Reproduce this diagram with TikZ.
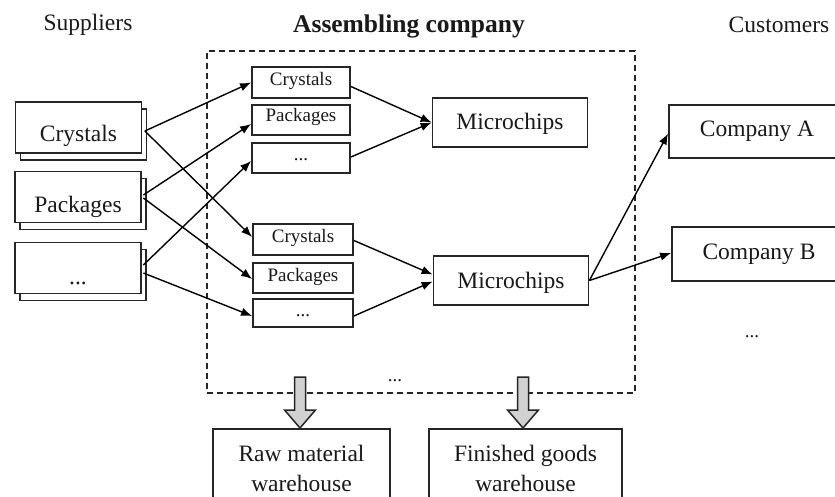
\documentclass[tikz,border=0pt]{standalone}
\usepackage{fontspec}
\setmainfont{Liberation Serif}
\usetikzlibrary{arrows.meta,shadows,calc}
\begin{document}
\begin{tikzpicture}[x=1pt,y=-1pt,
  box/.style={draw=black!85,line width=1.8pt,fill=white,inner sep=0pt,text=black!90,text depth=0pt},
  bigfont/.style={font=\fontsize{23.5}{28}\selectfont},
  smallfont/.style={font=\fontsize{19}{23}\selectfont},
  supbox/.style={box,bigfont,minimum width=126pt,minimum height=51pt,
    copy shadow={shadow xshift=5pt,shadow yshift=-7pt,draw=black!85,fill=white,line width=1.8pt}},
  partbox/.style={box,smallfont,minimum width=#1,minimum height=30pt},
  chipbox/.style={box,bigfont,minimum width=155pt,minimum height=49pt,text height=15pt},
  custbox/.style={box,bigfont,minimum height=53pt,text height=11pt},
  whbox/.style={box,align=center,font=\fontsize{23.5}{30}\selectfont,anchor=north,minimum height=79pt,text depth=},
  title/.style={anchor=base,text=black!90,font=\fontsize{23.5}{28}\selectfont},
  dots/.style={text=black!90,font=\fontsize{19}{23}\selectfont,inner sep=0pt},
  dashbox/.style={draw=black!85,line width=1.5pt,dash pattern=on 6pt off 4pt,minimum width=428pt,minimum height=342pt,inner sep=0pt},
  conn/.style={draw=black,line width=1.4pt,-{Latex[length=11pt,width=8.5pt]}},
  hollow/.style={draw=black!85,line width=1.5pt,fill=black!18,line join=miter}
]
\clip (0,0) rectangle (835,497);
\fill[white] (0,0) rectangle (835,497);

% titles
\node[title] (tS) at (88,31) {Suppliers};
\node[title,font=\fontsize{25.5}{30}\selectfont\bfseries] (tA) at (409,33) {Assembling company};
\node[title] (tC) at (779,33) {Customers};

% assembling company frame
\node[dashbox] (asm) at (421,222) {};
\node[dots] (asmdots) at (395,381) {...};

% suppliers
\node[supbox,text height=28pt] (sC) at (78.5,127.5) {Crystals};
\node[supbox,text height=32pt] (sP) at (78,197) {Packages};
\node[supbox,text height=32pt] (sD) at (78,268) {...};

% parts, upper group
\node[partbox=98pt,minimum height=31pt,text height=7pt] (pC1) at (301,82.5) {Crystals};
\node[partbox=98pt,text height=4pt] (pP1) at (301,120) {Packages};
\node[partbox=98pt,text height=6pt] (pD1) at (301,158) {...};
% parts, lower group
\node[partbox=100pt,minimum height=31pt,text height=7pt] (pC2) at (303,239.5) {Crystals};
\node[partbox=100pt,text height=7pt] (pP2) at (303,278) {Packages};
\node[partbox=100pt,minimum height=28pt,text height=7pt] (pD2) at (303,313) {...};

% microchips
\node[chipbox] (m1) at (510,122.5) {Microchips};
\node[chipbox] (m2) at (511,280.5) {Microchips};

% customers
\node[custbox,minimum width=176pt] (cA) at (757,131.5) {Company A};
\node[custbox,minimum width=174pt,minimum height=54pt] (cB) at (759,254) {Company B};
\node[dots] (cdots) at (752,337) {...};

% warehouses
\node[whbox,minimum width=177pt] (wR) at (301.5,428) {Raw material\\warehouse};
\node[whbox,minimum width=193pt] (wF) at (525.5,428) {Finished goods\\warehouse};

% connectors suppliers -> parts
\draw[conn] ($(sC.east)+(2.5,3.5)$) -- (pC1.west);
\draw[conn] ($(sC.east)+(2.5,3.5)$) -- ($(pC2.west)+(0,-2.5)$);
\draw[conn] ($(sP.east)+(1.5,-2)$) -- ($(pP1.west)+(0,4)$);
\draw[conn] ($(sP.east)+(1.5,1)$) -- ($(pP2.west)+(0,1)$);
\draw[conn] ($(sD.east)+(1.5,-3)$) -- ($(pD1.west)+(0,3)$);
\draw[conn] ($(sD.east)+(1.5,5)$) -- ($(pD2.west)+(0,3)$);

% parts -> microchips
\draw[conn] ($(pC1.east)+(0,4)$) -- (m1.west);
\draw[conn] ($(pD1.east)+(0,-1)$) -- (m1.west);
\draw[conn] ($(pC2.east)+(0,1)$) -- ($(m2.west)+(0,-6)$);
\draw[conn] ($(pD2.east)+(0,3)$) -- ($(m2.west)+(0,1)$);

% microchips -> customers
\draw[conn] (m2.east) -- ($(cA.west)+(0,2)$);
\draw[conn] (m2.east) -- ($(cB.west)+(0,-1)$);

% hollow arrows to warehouses
\draw[hollow] ($(wR.north)+(-1.5,0)$) -- ++(-15.5,-18) -- ++(10,0) -- ++(0,-33) -- ++(11,0) -- ++(0,33) -- ++(10,0) -- cycle;
\draw[hollow] ($(wF.north)+(-2.5,0)$) -- ++(-15.5,-18) -- ++(10,0) -- ++(0,-33) -- ++(11,0) -- ++(0,33) -- ++(10,0) -- cycle;
\end{tikzpicture}
\end{document}
